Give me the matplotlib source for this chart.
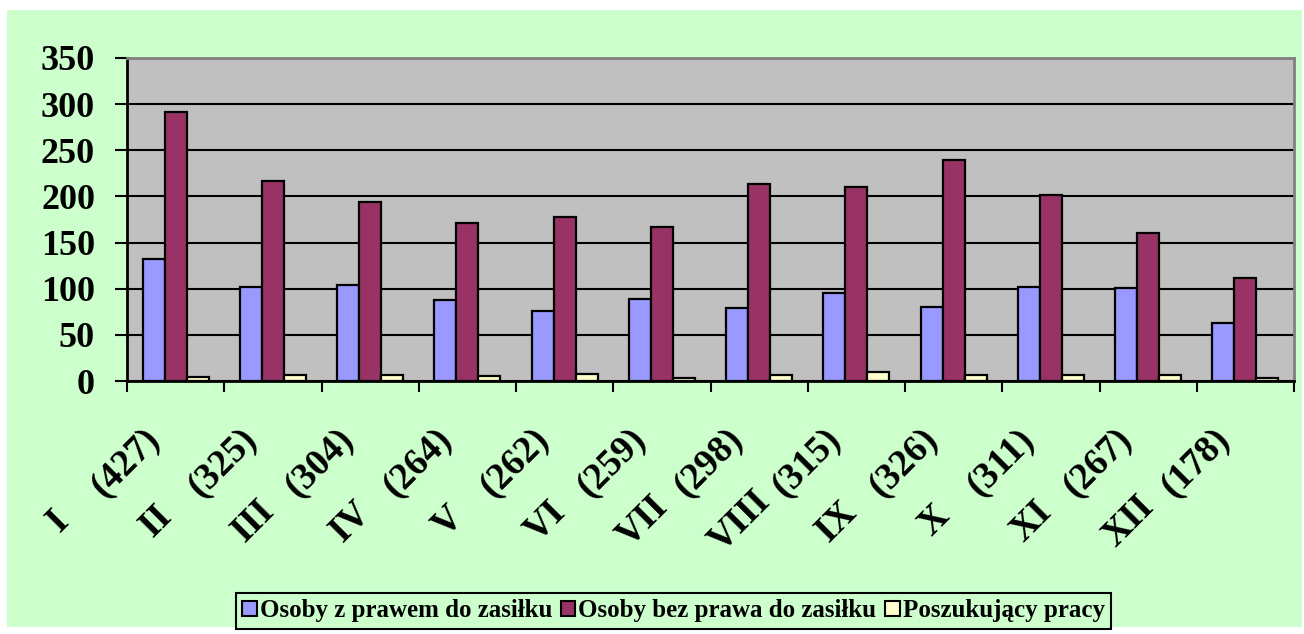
import numpy as np
import matplotlib
matplotlib.use("Agg")
import matplotlib.pyplot as plt
import matplotlib.transforms as mtransforms
from matplotlib.patches import Rectangle

months = ["I", "II", "III", "IV", "V", "VI", "VII", "VIII", "IX", "X", "XI", "XII"]
month_totals = ["(427)", "(325)", "(304)", "(264)", "(262)", "(259)",
                "(298)", "(315)", "(326)", "(311)", "(267)", "(178)"]
with_benefit = [132, 102, 104, 88, 76, 89, 79, 95, 80, 102, 101, 63]
without_benefit = [291, 217, 194, 171, 178, 167, 213, 210, 239, 202, 160, 112]
job_seekers = [4, 6, 6, 5, 8, 3, 6, 10, 7, 7, 6, 3]
series_names = ["Osoby z prawem do zasiłku", "Osoby bez prawa do zasiłku", "Poszukujący pracy"]
y_ticks = [0, 50, 100, 150, 200, 250, 300, 350]

colors = ["#9999FF", "#993366", "#FFFFCC"]
font = "Liberation Serif"

fig = plt.figure(figsize=(13.04, 6.34), dpi=100)
fig.patch.set_facecolor("white")
# light green chart area
bg = Rectangle((7 / 1304, 7 / 634), 1295 / 1304, 617 / 634,
               transform=fig.transFigure, facecolor="#CCFFCC", edgecolor="none", zorder=-10)
fig.add_artist(bg)

ax = fig.add_axes([127 / 1304, (634 - 381) / 634, 1167 / 1304, 323 / 634])
ax.set_facecolor("#C0C0C0")

x = np.arange(len(months))
w = 0.226
for k, vals in enumerate([with_benefit, without_benefit, job_seekers]):
    ax.bar(x + (k - 1) * w, vals, width=w, color=colors[k], edgecolor="black",
           linewidth=1.6, label=series_names[k], zorder=3)

ax.set_xlim(-0.5, len(months) - 0.5)
ax.set_ylim(0, 350)
ax.set_yticks(y_ticks)
ax.set_yticklabels([str(v) for v in y_ticks], fontfamily=font, fontweight="bold", fontsize=26)
ax.yaxis.grid(True, color="black", linewidth=1.5, zorder=1)
ax.set_axisbelow(True)
ax.tick_params(axis="y", direction="out", length=9, width=1.5, pad=14)

ax.set_xticks(np.arange(-0.5, len(months), 1))
ax.set_xticklabels([])
ax.tick_params(axis="x", direction="out", length=8, width=1.5)

for side in ["left", "bottom"]:
    ax.spines[side].set_color("black")
    ax.spines[side].set_linewidth(2)
for side in ["top", "right"]:
    ax.spines[side].set_color("#808080")
    ax.spines[side].set_linewidth(2)

# rotated category labels: roman numeral and total in two parts
base = mtransforms.blended_transform_factory(ax.transData, ax.transAxes)
roman_tr = mtransforms.offset_copy(base, fig=fig, x=-117, y=-140, units="dots")
total_tr = mtransforms.offset_copy(base, fig=fig, x=-50, y=-82, units="dots")
for i in range(len(months)):
    ax.text(x[i], 0, months[i], transform=roman_tr, rotation=45, rotation_mode="anchor",
            ha="center", va="center", fontfamily=font, fontweight="bold", fontsize=27,
            clip_on=False)
    ax.text(x[i], 0, month_totals[i], transform=total_tr, rotation=45, rotation_mode="anchor",
            ha="center", va="center", fontfamily=font, fontweight="bold", fontsize=27,
            clip_on=False)

leg = fig.legend(loc="center", bbox_to_anchor=(673.5 / 1304, (634 - 611) / 634), ncol=3,
                 prop={"family": font, "weight": "bold", "size": 18},
                 frameon=True, fancybox=False, edgecolor="black", facecolor="#CCFFCC",
                 handlelength=0.58, handleheight=0.58, handletextpad=0.12,
                 columnspacing=0.36, borderpad=0.25, borderaxespad=0)
leg.get_frame().set_linewidth(1.5)
leg.get_frame().set_alpha(None)
for h in leg.legend_handles:
    h.set_linewidth(1.5)

fig.savefig("out.png", dpi=100, facecolor=fig.get_facecolor())
